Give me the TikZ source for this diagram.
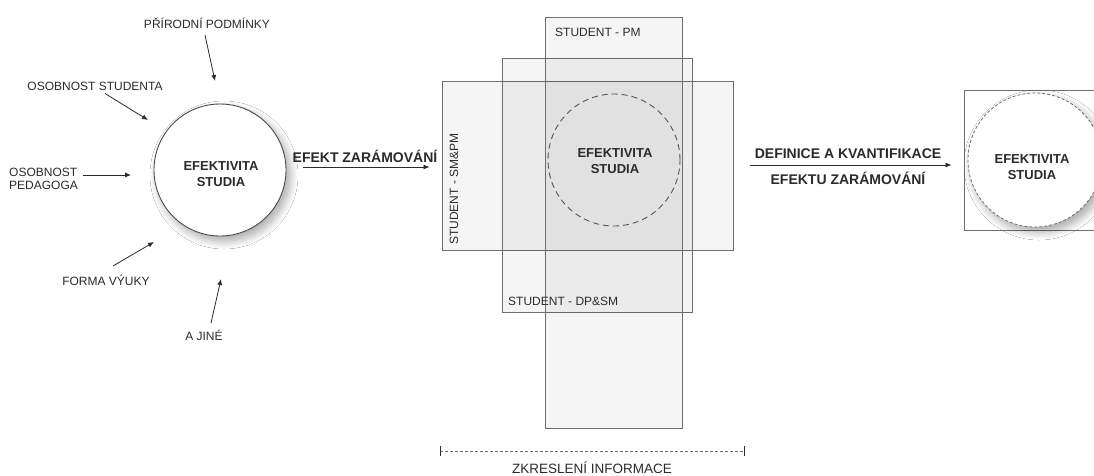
\documentclass[tikz,border=0pt]{standalone}
\usepackage{fontspec}
\setmainfont{Liberation Sans}
\usetikzlibrary{arrows.meta,shadows.blur}
\definecolor{ink}{HTML}{2B2B2B}
\definecolor{edge}{HTML}{6E6E6E}
\tikzset{
  lbl/.style={text=ink, font=\fontsize{12}{13}\selectfont, inner sep=0pt, align=left},
  biglbl/.style={text=ink, font=\bfseries\fontsize{14}{15}\selectfont, inner sep=0pt},
  core/.style={text=ink, font=\bfseries\fontsize{13}{16}\selectfont, align=center, inner sep=0pt},
  arr/.style={draw=ink, line width=0.8pt, -{Latex[length=6pt,width=5pt]}},
  panel/.style={draw=edge, line width=0.9pt, fill=black, fill opacity=0.04, inner sep=0pt},
  shade/.style={blur shadow={shadow xshift=4pt, shadow yshift=-5pt, shadow blur radius=8pt, shadow blur steps=12, shadow opacity=35}},
}
\begin{document}
\begin{tikzpicture}[x=1pt,y=-1pt]
\useasboundingbox (0,0) rectangle (1094,475);
\clip (0,0) rectangle (1094,475);
\fill[white] (0,0) rectangle (1094,475);

% left: factors acting on study efficiency
\node[circle, draw=ink!85, line width=0.9pt, fill=white, minimum size=132pt, shade] (es1) at (220,170) {};
\node[core] (es1t) at (221,174) {EFEKTIVITA\\STUDIA};

\node[lbl] (f1) at (207,23) {PŘÍRODNÍ PODMÍNKY};
\node[lbl] (f2) at (95,86) {OSOBNOST STUDENTA};
\node[lbl, anchor=west, align=left] (f3) at (9,179) {OSOBNOST\\PEDAGOGA};
\node[lbl] (f4) at (106,280) {FORMA VÝUKY};
\node[lbl] (f5) at (204,335) {A JINÉ};

\coordinate (h1) at (215,81);
\coordinate (h2) at (148,120);
\coordinate (h3) at (131,175);
\coordinate (h4) at (154,242);
\coordinate (h5) at (221,279);

\draw[arr] (205,35) -- (h1);
\draw[arr] (f2.south -| 105,0) ++(0,3) -- (h2);
\draw[arr] (f3.west |- 0,175) ++(74,0) -- (h3);
\draw[arr] (113,266) -- (h4);
\draw[arr] (211,323) -- (h5);

% middle: overlapping frames
\node[panel, minimum width=291pt, minimum height=169pt] (smpm) at (587.5,165.5) {};
\node[panel, minimum width=190pt, minimum height=254pt] (dpsm) at (597,185) {};
\node[panel, minimum width=137pt, minimum height=411pt] (pm) at (613.5,222.5) {};

\node[circle, draw=ink!80, line width=0.9pt, dash pattern=on 6pt off 4pt, minimum size=132pt] (es2) at (614,160) {};
\node[core] (es2t) at (615,161) {EFEKTIVITA\\STUDIA};

\node[lbl, anchor=west] (lpm) at (555,32) {STUDENT - PM};
\node[lbl, anchor=west] (ldp) at (508,301) {STUDENT - DP\&SM};
\node[lbl, rotate=90, anchor=west] (lsm) at (454,245) {STUDENT - SM\&PM};

\draw[arr] (es1.east |- 0,167) ++(17,0) -- ([xshift=-12pt]smpm.west |- 0,167);
\node[biglbl] (t1) at (365,156) {EFEKT ZARÁMOVÁNÍ};

% range of distortion
\coordinate (r1) at (440,451);
\coordinate (r2) at (744,451);
\draw[edge, line width=0.8pt, dash pattern=on 3pt off 2pt] (r1) -- (r2);
\draw[ink, line width=0.9pt] ([yshift=-5pt]r1) -- ([yshift=5pt]r1);
\draw[ink, line width=0.9pt] ([yshift=-5pt]r2) -- ([yshift=5pt]r2);
\node[lbl, font=\fontsize{13.5}{14}\selectfont] (zk) at (592,468) {ZKRESLENÍ INFORMACE};

% right: quantified result
\node[draw=edge, line width=0.9pt, fill=white, minimum width=140pt, minimum height=140pt, inner sep=0pt] (box) at (1034,160) {};
\node[circle, draw=edge, line width=0.8pt, dash pattern=on 3pt off 2pt, fill=white, minimum size=134pt, shade] (es3) at (1035,160) {};
\node[core] (es3t) at (1032,167) {EFEKTIVITA\\STUDIA};

\draw[arr] (smpm.east |- 0,165) ++(17,0) -- ([xshift=-12pt]box.west |- 0,165);
\node[biglbl] (t2) at (848,154) {DEFINICE A KVANTIFIKACE};
\node[biglbl] (t3) at (848,178) {EFEKTU ZARÁMOVÁNÍ};
\end{tikzpicture}
\end{document}
